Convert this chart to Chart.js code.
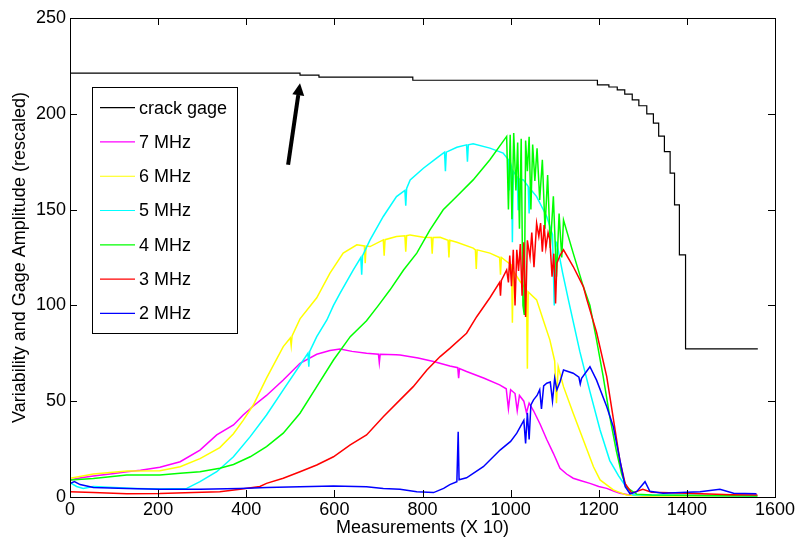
<!DOCTYPE html>
<html>
<head>
<meta charset="utf-8">
<script src="https://cdn.jsdelivr.net/npm/chart.js@4/dist/chart.umd.min.js"></script>
<style>
html,body{margin:0;padding:0;background:#fff;}
canvas{display:block;}
</style>
</head>
<body>
<canvas id="c" width="798" height="539"></canvas>
<script>
// ---- data ----
const seriesLabels = ['crack gage','7 MHz','6 MHz','5 MHz','4 MHz','3 MHz','2 MHz'];
const xTicks = [0,200,400,600,800,1000,1200,1400,1600];
const yTicks = [0,50,100,150,200,250];

const gageX = [0,522,565,778,1197,1223,1242,1259,1276,1291,1309,1324,1336,1349,1362,1372,1383,1397,1561];
const gageY = [221.2,220.2,219.1,217.5,215.1,214,212.5,210.3,207.3,204.2,200,195.1,188.4,180.3,169,152.5,126.4,77.3,77.3];

const m7X = [0,25,53,100,129,160,204,250,295,333,371,393,416,446,484,522,560,590,613,640,673,700,702,704,740,749,790,825,862,880,882,884,900,940,975,990,995,1000,1010,1015,1020,1030,1036,1042,1052,1067,1082,1097,1112,1127,1142,1160,1180,1200,1218,1235,1248,1270,1300,1400,1500,1560];
const m7Y = [8.9,10,11,12.3,13.2,14,15.5,18.4,24.5,32.4,37.6,42.8,47.5,53,61.1,69.8,74.5,76.5,77.3,76,75,74.5,70,74.5,74.3,74.1,72.5,70.7,68.4,67.5,62,67,65.5,62,58.5,56.5,46,56,54,45,53,50,44,49,45,38,30,22.8,15,12,9.8,8.5,7.1,5.5,4.5,3,1.9,1,0.8,0.8,0.8,0.8];

const m6X = [0,53,129,204,250,295,340,371,393,416,446,484,500,502,504,522,560,590,620,651,668,670,672,681,711,713,715,741,760,762,764,772,802,820,822,824,840,858,860,862,878,915,920,922,924,953,975,977,979,991,1002,1004,1006,1020,1036,1038,1040,1059,1074,1089,1100,1104,1108,1120,1142,1165,1188,1203,1233,1263,1300,1560];
const m6Y = [9.8,12,13.6,13.7,15.8,20,25.8,33,40,48,62,78.5,83,79,84,93,104,116.8,127.3,131.6,131,122,131,130.7,134.2,126,134.3,135.9,136.3,128,136.4,136.8,135.6,135.5,127,135.5,135.6,134,125,134,133,129.9,129,119,129,127.3,125,116,125,122.9,121,91,118,113,108,67,107,102.9,92.4,82,71,49,68,57.6,43.7,29.8,15.8,8.9,3.7,1,0.5,0.5];

const m5X = [0,15,30,53,100,150,204,265,295,333,371,409,446,484,522,540,542,544,560,583,598,613,643,660,662,664,681,711,741,760,762,764,772,802,832,850,852,854,878,900,902,904,915,953,983,995,997,999,1002,1004,1006,1015,1017,1019,1029,1040,1042,1044,1059,1082,1095,1099,1103,1105,1118,1131,1157,1180,1203,1225,1245,1260,1278,1300,1560];
const m5Y = [7.5,5.5,4.5,5.5,5,4.5,4.2,4.5,8,13.2,21,31.5,42.8,55.9,68.9,75,68,76,83.7,92.4,100,106.4,118.5,125,116,126,134.2,146.4,156.8,160,152,161,165.5,171.6,176.9,180,170,180,182.5,183.8,175,183.8,184.3,182.1,179.5,176,160,175,172.5,133,170,167,150,166,165.5,162,148,161,156.8,146.4,137,100,133,132.5,117,103,76,55,35,19,11,6,1,1,0.5];

const m4X = [0,53,129,204,250,295,340,371,409,446,484,522,560,598,636,673,700,726,757,787,817,847,878,915,953,991,995,999,1003,1007,1012,1016,1020,1024,1028,1031,1034,1038,1042,1046,1050,1055,1060,1066,1072,1078,1084,1090,1097,1104,1110,1116,1120,1142,1165,1180,1195,1210,1225,1240,1252,1263,1286,1320,1560];
const m4Y = [8.9,9.7,11.5,11.5,12.4,13.2,15,17,21,26.3,33.3,43.7,57.6,71.5,83.7,92,100,108,118.5,127.3,139.4,149.9,157,165.5,176,188.2,150,189,145,190,160,185,140,187,100,95,186,170,188,150,184,165,182,155,176,140,168,130,157,115,148,125,144.6,127.3,109.8,100,82,63,42,24,12,5,1.5,1,0.5];

const m3X = [0,53,129,204,280,340,386,431,446,484,522,560,598,636,673,711,749,779,810,840,862,900,923,953,975,977,979,991,995,998,1002,1006,1010,1014,1018,1022,1026,1030,1034,1038,1044,1048,1053,1059,1064,1068,1072,1076,1080,1085,1089,1094,1098,1102,1105,1112,1120,1142,1165,1173,1195,1218,1233,1248,1260,1275,1300,1320,1400,1500,1560];
const m3Y = [2.8,2.3,1.7,1.8,2.3,2.8,4,5.5,7.1,9.8,13.2,16.7,21,27.2,32.4,41.9,50.7,57.6,66.3,73.3,77.6,85.5,94.1,104,112,105,113,118.5,112,126,110,129,100,129,118,132,105,133,94,134,125,138,120,142.9,136,143,128,142,130,138,134.2,115,127,101,122,126,129,120.3,109.8,103,86,63,41,19,7,2,4,2.5,2,1.2,1];

const m2X = [0,10,23,53,129,204,295,386,446,522,598,673,711,749,787,825,848,862,878,881,883,900,938,976,1000,1014,1030,1034,1038,1042,1046,1052,1060,1066,1070,1075,1082,1090,1095,1100,1105,1112,1120,1142,1155,1158,1161,1180,1195,1218,1233,1248,1260,1271,1286,1305,1316,1346,1400,1430,1475,1506,1558];
const m2Y = [7,8,6.5,5,4.5,4,4,4.5,5,5.4,5.7,5.4,4.5,4,2.8,2.3,4.5,6.5,8,34,9,10,15.8,24.5,29,33.3,40,28,44,30,48,50.7,53,56,46,58,59.4,60,50,62,55.9,60,66.3,64.6,62.5,59,62,68,61,47.2,36.7,19.3,5.4,1.7,2.8,8,3,2,2.5,2.8,4,2,1.7];

// arrow annotation (data coordinates: tail -> tip)
const arrowFrom = [495,173.4];
const arrowTo = [522,216];

// ---- build ----
const pts = (xs, ys) => xs.map((x, i) => ({x: x, y: ys[i]}));
const colors = ['#000000','#ff00ff','#ffff00','#00ffff','#00ff00','#ff0000','#0000ff'];
const xsAll = [gageX,m7X,m6X,m5X,m4X,m3X,m2X];
const ysAll = [gageY,m7Y,m6Y,m5Y,m4Y,m3Y,m2Y];
const FONT = '"Liberation Sans", Arial, Helvetica, sans-serif';

const datasets = seriesLabels.map((lab, i) => ({
  label: lab,
  data: pts(xsAll[i], ysAll[i]),
  borderColor: colors[i],
  backgroundColor: colors[i],
  borderWidth: i === 0 ? 1.2 : 1.5,
  pointRadius: 0,
  fill: false,
  tension: 0,
  stepped: i === 0 ? 'before' : false,
  order: i === 0 ? 10 : 7 - i
}));

const matlabFrame = {
  id: 'matlabFrame',
  afterDatasetsDraw(chart) {
    const {ctx, chartArea: a, scales: {x, y}} = chart;
    ctx.save();
    ctx.strokeStyle = '#000';
    ctx.lineWidth = 1;
    ctx.strokeRect(Math.round(a.left) + 0.5, Math.round(a.top) + 0.5, Math.round(a.right - a.left), Math.round(a.bottom - a.top));
    const tl = 7;
    ctx.beginPath();
    xTicks.forEach(v => {
      const px = Math.round(x.getPixelForValue(v)) + 0.5;
      ctx.moveTo(px, a.bottom); ctx.lineTo(px, a.bottom - tl);
      ctx.moveTo(px, a.top); ctx.lineTo(px, a.top + tl);
    });
    yTicks.forEach(v => {
      const py = Math.round(y.getPixelForValue(v)) + 0.5;
      ctx.moveTo(a.left, py); ctx.lineTo(a.left + tl, py);
      ctx.moveTo(a.right, py); ctx.lineTo(a.right - tl, py);
    });
    ctx.stroke();

    // arrow
    const x0 = x.getPixelForValue(arrowFrom[0]), y0 = y.getPixelForValue(arrowFrom[1]);
    const x1 = x.getPixelForValue(arrowTo[0]), y1 = y.getPixelForValue(arrowTo[1]);
    const ang = Math.atan2(y1 - y0, x1 - x0);
    const hl = 12, hw = 6;
    const bx = x1 - hl * Math.cos(ang), by = y1 - hl * Math.sin(ang);
    ctx.lineWidth = 4;
    ctx.lineCap = 'butt';
    ctx.beginPath(); ctx.moveTo(x0, y0); ctx.lineTo(bx, by); ctx.stroke();
    ctx.fillStyle = '#000';
    ctx.beginPath();
    ctx.moveTo(x1, y1);
    ctx.lineTo(bx + hw * Math.sin(ang), by - hw * Math.cos(ang));
    ctx.lineTo(bx - hw * Math.sin(ang), by + hw * Math.cos(ang));
    ctx.closePath(); ctx.fill();

    // legend box
    const L = 92.5, T = 87.5, W = 145, H = 246;
    ctx.fillStyle = '#fff';
    ctx.fillRect(L, T, W, H);
    ctx.lineWidth = 1;
    ctx.strokeStyle = '#000';
    ctx.strokeRect(L, T, W, H);
    ctx.font = '18px ' + FONT;
    ctx.textBaseline = 'middle';
    ctx.textAlign = 'left';
    chart.data.datasets.forEach((ds, i) => {
      const ry = 107.7 + i * 34.27;
      ctx.strokeStyle = ds.borderColor;
      ctx.lineWidth = 1.2;
      ctx.beginPath(); ctx.moveTo(100, ry); ctx.lineTo(135, ry); ctx.stroke();
      ctx.fillStyle = '#000';
      ctx.fillText(ds.label, 139, ry + 1);
    });
    ctx.restore();
  }
};

new Chart(document.getElementById('c'), {
  type: 'line',
  data: {datasets: datasets},
  options: {
    responsive: false,
    animation: false,
    devicePixelRatio: 1,
    layout: {padding: {left: 0, right: 23, top: 18, bottom: 0}},
    plugins: {legend: {display: false}, tooltip: {enabled: false}},
    scales: {
      x: {
        type: 'linear', min: 0, max: 1600,
        afterBuildTicks: s => { s.ticks = xTicks.map(v => ({value: v})); },
        afterFit: s => { s.height = 42; },
        grid: {display: false, drawTicks: false},
        border: {display: false},
        ticks: {color: '#000', font: {size: 18, family: FONT}, padding: 2, maxRotation: 0, autoSkip: false, callback: v => String(v)},
        title: {display: true, text: 'Measurements (X 10)', color: '#000', font: {size: 18, family: FONT}, padding: {top: 0, bottom: 0}}
      },
      y: {
        type: 'linear', min: 0, max: 250,
        afterBuildTicks: s => { s.ticks = yTicks.map(v => ({value: v})); },
        afterFit: s => { s.width = 70; },
        grid: {display: false, drawTicks: false},
        border: {display: false},
        ticks: {color: '#000', font: {size: 18, family: FONT}, padding: 4, callback: v => String(v)},
        title: {display: true, text: 'Variability and Gage Amplitude (rescaled)', color: '#000', font: {size: 18, family: FONT}, padding: {top: 9, bottom: 0}}
      }
    }
  },
  plugins: [matlabFrame]
});
</script>
</body>
</html>
